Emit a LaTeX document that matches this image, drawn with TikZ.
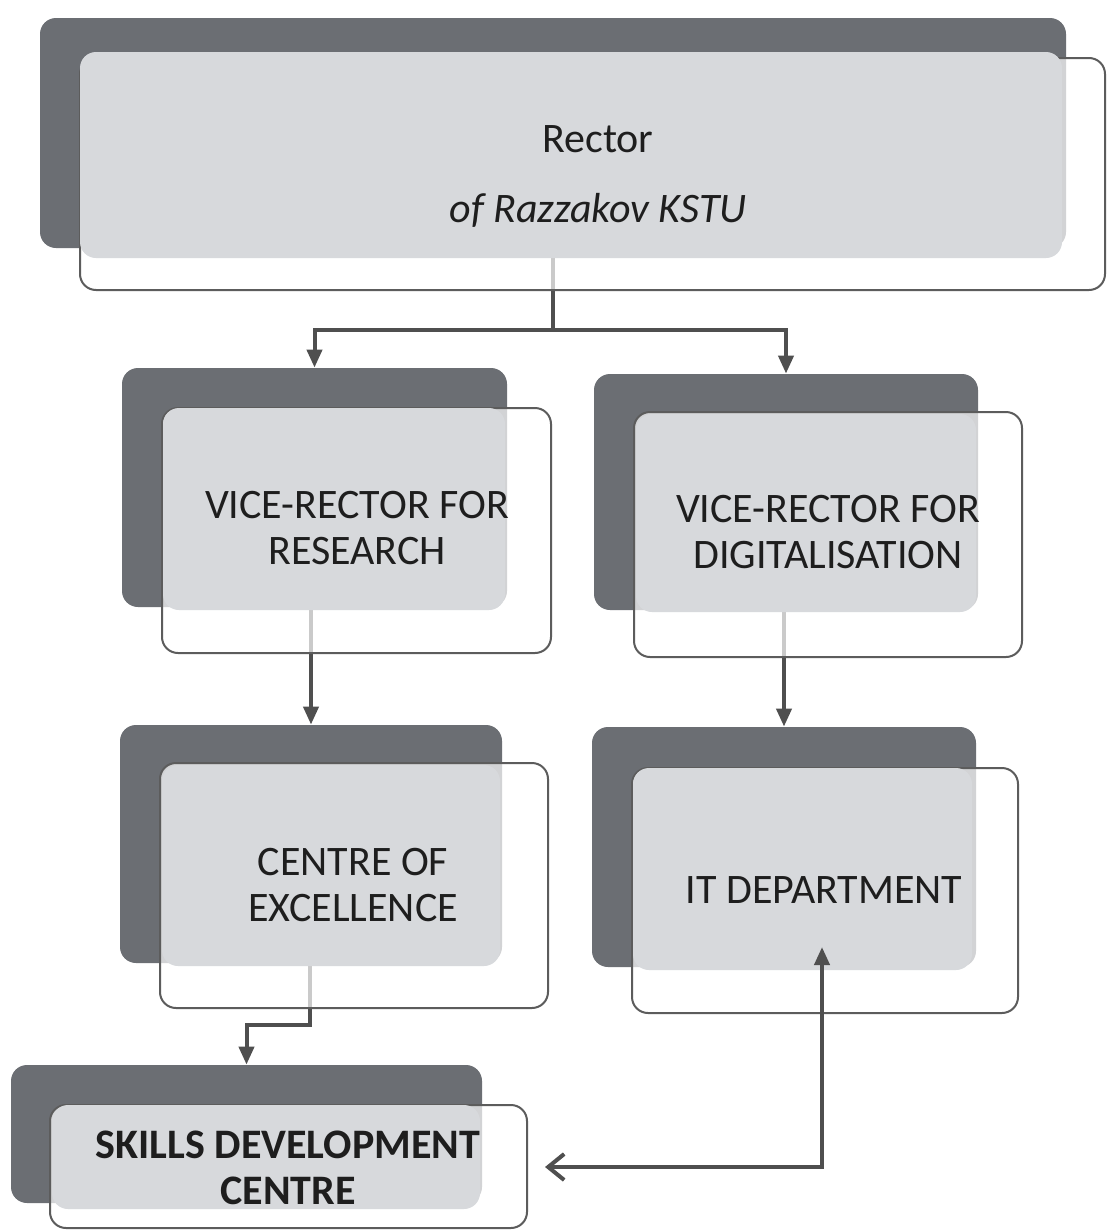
\documentclass[tikz,border=0pt]{standalone}
\usepackage{fontspec}
\setmainfont{Carlito}
\usetikzlibrary{fit,arrows.meta}

\pgfdeclarelayer{back}
\pgfdeclarelayer{wires}
\pgfsetlayers{back,wires,main}

\definecolor{cardDark}{HTML}{6B6E73}
\definecolor{cardLight}{HTML}{D7D9DC}
\definecolor{wireGrey}{HTML}{4F4F4F}
\definecolor{rimGrey}{HTML}{5C5C5C}
\definecolor{ink}{HTML}{1E1E1E}

\tikzset{
  darkcard/.style={fill=cardDark, draw=none, rounded corners=8pt, inner sep=0pt},
  rimcard/.style={draw=rimGrey, line width=1pt, fill=white, fill opacity=0.7,
                  rounded corners=8pt, inner sep=0pt},
  lightcard/.style={fill=cardLight, draw=none, rounded corners=8pt, inner sep=0pt},
  cardtext/.style={text=ink, font=\fontsize{21}{23}\selectfont, align=center, inner sep=0pt},
  wire/.style={draw=wireGrey, line width=2pt},
  tri/.style={-{Triangle[length=9pt,width=7.5pt]}},
}

% one card: dark plate, outlined frame, light face
\newcommand{\orgcard}[4]{%
  \begin{pgfonlayer}{back}
    \node[darkcard, fit={#2}] (#1D) {};
  \end{pgfonlayer}
  \node[rimcard, fit={#3}] (#1R) {};
  \node[lightcard, fit={#4}] (#1L) {};
}

\begin{document}
\begin{tikzpicture}[x=0.5pt, y=-0.5pt]
  \begin{pgfonlayer}{back}
    \fill[white] (0,0) rectangle (1112,1232);
  \end{pgfonlayer}
  \useasboundingbox (0,0) rectangle (1112,1232);

  % cards
  \orgcard{rector}{(40,18) (1066,248)}{(80,58) (1105,290)}{(80,52) (1062,258)}
  \orgcard{vpr}{(122,368) (507,607)}{(162,408) (551,653)}{(163,408) (505,610)}
  \orgcard{vpd}{(594,374) (978,610)}{(634,412) (1022,657)}{(636,414) (976,612)}
  \orgcard{coe}{(120,725) (502,963)}{(160,763) (548,1008)}{(162,765) (500,966)}
  \orgcard{it}{(592,727) (976,967)}{(632,768) (1018,1013)}{(633,768) (972,970)}
  \orgcard{sd}{(11,1065) (482,1203)}{(50,1105) (527,1228)}{(52,1105) (480,1209)}

  % labels
  \node[cardtext] (rectorT) at (598,176) {Rector\\[12pt]\textit{of Razzakov KSTU}};
  \node[cardtext] (vprT) at (357,528) {VICE-RECTOR FOR\\RESEARCH};
  \node[cardtext] (vpdT) at (828,532) {VICE-RECTOR FOR\\DIGITALISATION};
  \node[cardtext] (coeT) at (353,885) {CENTRE OF\\EXCELLENCE};
  \node[cardtext] (itT) at (824,890) {IT DEPARTMENT};
  \node[cardtext, font=\fontsize{21}{23}\selectfont\bfseries] (sdT) at (288,1168)
       {SKILLS DEVELOPMENT\\CENTRE};

  % junction points
  \coordinate (split) at (553,330);
  \coordinate (bend) at (310,1025);
  \coordinate (loop) at (822,1167);
  \coordinate (itIn) at (822,947);
  \coordinate (sdIn) at (545,1167);

  % connectors seen faintly through the frames
  \begin{pgfonlayer}{wires}
    \draw[wire] (rectorL.south -| split) -- (split);
    \draw[wire, tri] (split) -| (vprD.north);
    \draw[wire, tri] (split) -| (vpdD.north);
    \draw[wire, tri] (vprL.south -| coeD.north) -- (coeD.north);
    \draw[wire, tri] (vpdL.south -| itD.north) -- (itD.north);
    \draw[wire, tri] (coeL.south -| bend) -- (bend) -| (sdD.north);
  \end{pgfonlayer}

  % link between IT department and skills centre
  \draw[wire, {Triangle[length=9pt,width=7.5pt]}-{Straight Barb[length=8pt,width=13pt]}]
       (itIn) -- (loop) -- (sdIn);
\end{tikzpicture}
\end{document}
